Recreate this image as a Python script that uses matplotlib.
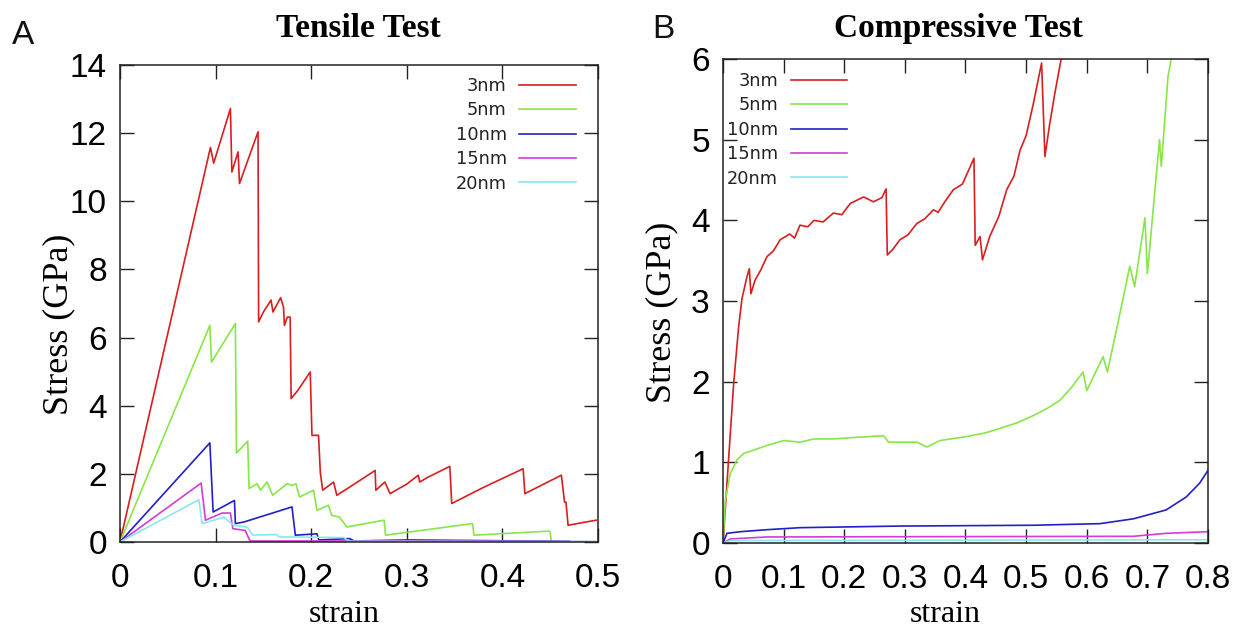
import matplotlib
matplotlib.use("Agg")
import matplotlib.pyplot as plt

# ---------------- data ----------------
labels = ["3nm", "5nm", "10nm", "15nm", "20nm"]
colors = ["#d81e1e", "#88e646", "#2020c8", "#d23cd8", "#8ae6f0"]

# Tensile test (strain, stress GPa)
t3_x = [0, 0.0946, 0.098, 0.1155, 0.117, 0.1235, 0.125, 0.1444, 0.145, 0.150, 0.158, 0.160, 0.168,
        0.171, 0.172, 0.175, 0.178, 0.179, 0.186, 0.199, 0.2008, 0.2077, 0.2095, 0.212, 0.2234,
        0.2268, 0.245, 0.2669, 0.2676, 0.277, 0.2825, 0.300, 0.312, 0.3135, 0.322, 0.345, 0.347,
        0.380, 0.4217, 0.4235, 0.4617, 0.465, 0.4665, 0.4687, 0.480, 0.498]
t3_y = [0, 11.58, 11.12, 12.72, 10.86, 11.45, 10.52, 12.04, 6.46, 6.75, 7.10, 6.75, 7.17,
        6.90, 6.36, 6.60, 6.60, 4.21, 4.45, 4.99, 3.13, 3.13, 2.05, 1.52, 1.76,
        1.37, 1.70, 2.10, 1.52, 1.76, 1.42, 1.70, 1.96, 1.76, 1.90, 2.22, 1.13,
        1.60, 2.15, 1.42, 1.96, 1.17, 1.17, 0.49, 0.55, 0.64]

t5_x = [0, 0.094, 0.0957, 0.1207, 0.1218, 0.1336, 0.135, 0.1434, 0.147, 0.1538, 0.1597, 0.1747,
        0.180, 0.184, 0.1879, 0.2025, 0.206, 0.218, 0.2216, 0.2296, 0.2373, 0.2763, 0.2777,
        0.3688, 0.3702, 0.4496, 0.4513]
t5_y = [0, 6.36, 5.28, 6.41, 2.61, 2.96, 1.57, 1.71, 1.52, 1.76, 1.37, 1.71,
        1.66, 1.71, 1.32, 1.52, 0.93, 1.08, 0.78, 0.73, 0.44, 0.64, 0.20,
        0.54, 0.20, 0.32, 0.02]

t10_x = [0, 0.094, 0.0974, 0.1197, 0.1207, 0.130, 0.1799, 0.1834, 0.206, 0.208, 0.240, 0.245,
         0.300, 0.470]
t10_y = [0, 2.91, 0.88, 1.22, 0.54, 0.59, 1.03, 0.20, 0.24, 0.06, 0.10, 0.03,
         0.06, 0.02]

t15_x = [0, 0.0849, 0.0894, 0.1068, 0.1155, 0.118, 0.131, 0.136, 0.300, 0.500]
t15_y = [0, 1.73, 0.64, 0.85, 0.85, 0.39, 0.34, 0.03, 0.03, 0.01]

t20_x = [0, 0.0825, 0.0859, 0.1086, 0.119, 0.1329, 0.139, 0.164, 0.166, 0.234, 0.240, 0.500]
t20_y = [0, 1.24, 0.54, 0.73, 0.49, 0.44, 0.20, 0.22, 0.15, 0.13, 0.02, 0.01]

# Compressive test (strain, stress GPa)
c3_x = [0, 0.0066, 0.0176, 0.0258, 0.0313, 0.0395, 0.0434, 0.046, 0.053, 0.062, 0.0725, 0.083,
        0.0944, 0.110, 0.118, 0.127, 0.140, 0.150, 0.165, 0.182, 0.196, 0.210, 0.232, 0.248,
        0.262, 0.269, 0.271, 0.280, 0.292, 0.305, 0.3196, 0.333, 0.347, 0.355, 0.365, 0.380,
        0.395, 0.414, 0.416, 0.424, 0.428, 0.44, 0.455, 0.468, 0.48, 0.49, 0.50, 0.512,
        0.5255, 0.531, 0.539, 0.5475, 0.5585]
c3_y = [0, 0.74, 1.98, 2.68, 3.03, 3.30, 3.40, 3.09, 3.26, 3.38, 3.55, 3.62,
        3.76, 3.83, 3.78, 3.94, 3.92, 4.00, 3.98, 4.09, 4.07, 4.21, 4.29, 4.23,
        4.28, 4.39, 3.57, 3.64, 3.76, 3.82, 3.96, 4.02, 4.13, 4.10, 4.22, 4.38,
        4.45, 4.77, 3.69, 3.80, 3.51, 3.80, 4.05, 4.38, 4.55, 4.87, 5.05, 5.45,
        5.95, 4.79, 5.20, 5.58, 6.03]

c5_x = [0, 0.0038, 0.012, 0.023, 0.034, 0.050, 0.0725, 0.100, 0.127, 0.150, 0.182, 0.220,
        0.265, 0.273, 0.32, 0.336, 0.358, 0.402, 0.430, 0.457, 0.485, 0.512, 0.535, 0.556,
        0.575, 0.594, 0.600, 0.627, 0.634, 0.649, 0.671, 0.679, 0.696, 0.700, 0.720, 0.723,
        0.734, 0.740]
c5_y = [0, 0.53, 0.86, 1.03, 1.11, 1.15, 1.21, 1.27, 1.25, 1.29, 1.29, 1.31,
        1.33, 1.25, 1.25, 1.19, 1.27, 1.32, 1.36, 1.42, 1.49, 1.58, 1.67, 1.77,
        1.93, 2.12, 1.89, 2.31, 2.12, 2.64, 3.43, 3.18, 4.03, 3.34, 5.00, 4.67,
        5.78, 6.03]

c10_x = [0, 0.0066, 0.0286, 0.0725, 0.127, 0.292, 0.512, 0.622, 0.677, 0.731, 0.764, 0.786, 0.800]
c10_y = [0, 0.12, 0.14, 0.165, 0.19, 0.21, 0.22, 0.24, 0.30, 0.41, 0.57, 0.74, 0.90]

c15_x = [0, 0.012, 0.0725, 0.677, 0.731, 0.800]
c15_y = [0, 0.05, 0.075, 0.083, 0.12, 0.14]

c20_x = [0, 0.012, 0.800]
c20_y = [0, 0.03, 0.04]

tensile = [(t3_x, t3_y), (t5_x, t5_y), (t10_x, t10_y), (t15_x, t15_y), (t20_x, t20_y)]
compressive = [(c3_x, c3_y), (c5_x, c5_y), (c10_x, c10_y), (c15_x, c15_y), (c20_x, c20_y)]

t_xticks = [0, 0.1, 0.2, 0.3, 0.4, 0.5]
t_xticklabels = ["0", "0.1", "0.2", "0.3", "0.4", "0.5"]
t_yticks = [0, 2, 4, 6, 8, 10, 12, 14]
c_xticks = [0, 0.1, 0.2, 0.3, 0.4, 0.5, 0.6, 0.7, 0.8]
c_xticklabels = ["0", "0.1", "0.2", "0.3", "0.4", "0.5", "0.6", "0.7", "0.8"]
c_yticks = [0, 1, 2, 3, 4, 5, 6]

# ---------------- plot ----------------
W, H = 1247, 629
fig = plt.figure(figsize=(W / 100, H / 100), dpi=100)
ax1 = fig.add_axes([120/W, 87/H, 478/W, 477/H])
ax2 = fig.add_axes([723/W, 86/H, 485/W, 484/H])

tick_font = dict(family="Liberation Sans", size=24)
serif = "Liberation Serif"

def style(ax, xticks, xlabels, yticks, xlim, ylim):
    for s in ax.spines.values():
        s.set_linewidth(1.1)
        s.set_color("#222222")
    ax.set_xlim(*xlim)
    ax.set_ylim(*ylim)
    ax.set_xticks(xticks)
    ax.set_xticklabels(xlabels, **tick_font)
    ax.set_yticks(yticks)
    ax.set_yticklabels([str(v) for v in yticks], **tick_font)
    ax.tick_params(direction="in", length=10, width=1.0, top=True, right=True,
                   color="#222222")
    ax.tick_params(axis="x", pad=15)
    ax.tick_params(axis="y", pad=9.5)
    ax.set_xlabel("strain", family=serif, size=23)
    ax.set_ylabel("Stress (GPa)", family=serif, size=26)

for (x, y), c, lab in zip(tensile, colors, labels):
    ax1.plot(x, y, color=c, lw=1.2, label=lab)
for (x, y), c, lab in zip(compressive, colors, labels):
    ax2.plot(x, y, color=c, lw=1.2, label=lab)

style(ax1, t_xticks, t_xticklabels, t_yticks, (0, 0.5), (0, 14))
style(ax2, c_xticks, c_xticklabels, c_yticks, (0, 0.8), (0, 6))

ax1.yaxis.set_label_coords((75 - 120) / 478, (542 - 324) / 477)
ax2.yaxis.set_label_coords((678 - 723) / 485, (543 - 312) / 484)
ax1.xaxis.set_label_coords((344 - 120) / 478, (542 - 600) / 477)
ax2.xaxis.set_label_coords((945 - 723) / 485, (543 - 600) / 484)

fig.text(358/W, 1 - 37/H, "Tensile Test", family=serif, weight="bold", size=24, ha="center")
fig.text(958/W, 1 - 37/H, "Compressive Test", family=serif, weight="bold", size=24, ha="center")

leg_kw = dict(frameon=False, markerfirst=False, handlelength=3.2, handletextpad=0.7,
              labelspacing=0.36, borderpad=0, borderaxespad=0,
              prop=dict(family="DejaVu Sans", size=12.8))
l1 = ax1.legend(loc="upper right", bbox_to_anchor=(576/W, 1 - 77/H),
                bbox_transform=fig.transFigure, **leg_kw)
l2 = ax2.legend(loc="upper left", bbox_to_anchor=(727/W, 1 - 72/H),
                bbox_transform=fig.transFigure, **leg_kw)
for l in (l1, l2):
    for t in l.get_texts():
        t.set_ha("right")
        t.set_color("#222222")

fig.text(12/W, 1 - 44/H, "A", family="Liberation Sans", size=24, color="#111111")
fig.text(652/W, 1 - 38/H, "B", family="Liberation Sans", size=24, color="#111111")

fig.savefig("out.png", dpi=100)
